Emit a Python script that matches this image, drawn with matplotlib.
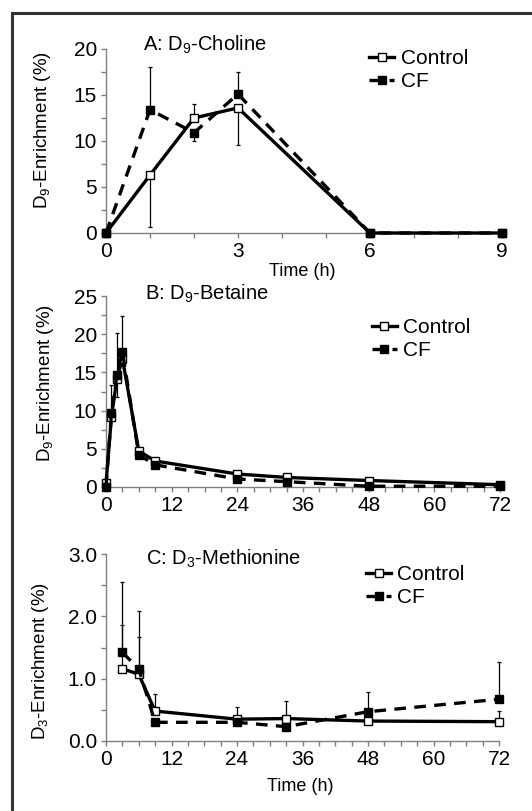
import matplotlib
matplotlib.use("Agg")
import matplotlib.pyplot as plt
from matplotlib import font_manager
from matplotlib.patches import Rectangle
from matplotlib.ticker import MultipleLocator, FormatStrFormatter

names = {f.name for f in font_manager.fontManager.ttflist}
NARROW = "Liberation Sans Narrow" if "Liberation Sans Narrow" in names else "Liberation Sans"
REG = "Liberation Sans"
plt.rcParams["font.family"] = [REG, "DejaVu Sans"]
plt.rcParams["mathtext.fontset"] = "custom"
plt.rcParams["mathtext.rm"] = REG

# ---------------- data ----------------
# Panel A: D9-Choline
a_time = [0, 1, 2, 3, 6, 9]
a_ctrl = [0, 6.3, 12.5, 13.6, 0, 0]
a_ctrl_lo = [0, 5.6, 0, 4.0, 0, 0]
a_ctrl_hi = [0, 0, 1.5, 0, 0, 0]
a_cf = [0, 13.4, 10.9, 15.1, 0, 0]
a_cf_lo = [0, 0, 0.9, 0, 0, 0]
a_cf_hi = [0, 4.6, 0, 2.4, 0, 0]

# Panel B: D9-Betaine
b_time = [0, 1, 2, 3, 6, 9, 24, 33, 48, 72]
b_ctrl = [0.5, 9.2, 14.2, 16.8, 4.7, 3.4, 1.7, 1.25, 0.85, 0.3]
b_ctrl_lo = [0, 0, 2.4, 0, 0, 0, 0, 0, 0, 0]
b_ctrl_hi = [0, 0, 0, 0, 0, 0, 0, 0, 0, 0]
b_cf = [0, 9.7, 14.7, 17.7, 4.2, 2.9, 1.05, 0.7, 0.1, 0.1]
b_cf_lo = [0, 0, 0, 0, 0, 0, 0, 0, 0, 0]
b_cf_hi = [0, 3.6, 5.4, 4.7, 0, 0, 0, 0, 0, 0]

# Panel C: D3-Methionine
c_time = [3, 6, 9, 24, 33, 48, 72]
c_ctrl = [1.16, 1.07, 0.48, 0.35, 0.36, 0.32, 0.31]
c_ctrl_lo = [0, 0, 0, 0, 0, 0, 0]
c_ctrl_hi = [0.70, 0.60, 0.28, 0.20, 0.28, 0, 0.17]
c_cf = [1.42, 1.16, 0.30, 0.30, 0.23, 0.47, 0.67]
c_cf_lo = [0, 0, 0, 0, 0, 0, 0]
c_cf_hi = [1.13, 0.93, 0, 0, 0, 0.32, 0.59]

series_labels = ["Control", "CF"]

# ---------------- figure ----------------
W, H = 532, 811
fig = plt.figure(figsize=(W / 100, H / 100), dpi=100)
fig.patches.append(Rectangle((12 / W, -0.02), 1.1, 1 - 13 / H + 0.02,
                             transform=fig.transFigure, fill=False,
                             edgecolor="#333333", linewidth=2.2))

def px_axes(l, t, r, b):
    return fig.add_axes([l / W, 1 - b / H, (r - l) / W, (b - t) / H])

axA = px_axes(106, 49, 502, 233)
axB = px_axes(106, 296, 500, 487)
axC = px_axes(106, 554, 499, 741)

GRAY = "#808080"

def draw(ax, t, ctrl, clo, chi, cf, flo, fhi):
    ax.errorbar(t, ctrl, yerr=[clo, chi], fmt="none", ecolor="black",
                elinewidth=0.9, capsize=1.5, capthick=0.9, zorder=2, clip_on=False)
    ax.errorbar(t, cf, yerr=[flo, fhi], fmt="none", ecolor="black",
                elinewidth=0.9, capsize=1.5, capthick=0.9, zorder=2, clip_on=False)
    l1, = ax.plot(t, ctrl, color="black", lw=2.4, ls="-", marker="s", ms=6,
                  mfc="white", mec="black", mew=1.0, zorder=3, clip_on=False,
                  label=series_labels[0])
    l2, = ax.plot(t, cf, color="black", lw=2.4, ls=(0, (3.5, 2.5)), marker="s",
                  ms=6, mfc="black", mec="black", zorder=4, clip_on=False,
                  label=series_labels[1])
    return l1, l2

def style(ax, xmax, xmajor, xminor, ymax, ymajor, yminor, yfmt):
    for s in ["top", "right"]:
        ax.spines[s].set_visible(False)
    for s in ["left", "bottom"]:
        ax.spines[s].set_color(GRAY)
        ax.spines[s].set_linewidth(1.0)
    ax.set_xlim(0, xmax)
    ax.set_ylim(0, ymax)
    ax.xaxis.set_major_locator(MultipleLocator(xmajor))
    ax.xaxis.set_minor_locator(MultipleLocator(xminor))
    ax.yaxis.set_major_locator(MultipleLocator(ymajor))
    ax.yaxis.set_minor_locator(MultipleLocator(yminor))
    ax.yaxis.set_major_formatter(FormatStrFormatter(yfmt))
    ax.tick_params(which="both", direction="out", color=GRAY, width=1.0,
                   length=3.5, pad=3, labelsize=15)
    for lab in ax.get_xticklabels() + ax.get_yticklabels():
        lab.set_family(NARROW)

TITLE_FS = 14.5
YL_FS = 13.5

# Panel A
hA = draw(axA, a_time, a_ctrl, a_ctrl_lo, a_ctrl_hi, a_cf, a_cf_lo, a_cf_hi)
style(axA, 9, 3, 1, 20, 5, 2.5, "%d")
axA.text(0.093, 1.02, r"A: D$_9$-Choline", transform=axA.transAxes,
         fontsize=TITLE_FS, va="center", ha="left")
axA.set_ylabel(r"D$_9$-Enrichment (%)", fontsize=YL_FS, family=NARROW)
axA.yaxis.set_label_coords(-0.135, 0.56)
axA.set_xlabel("Time (h)", fontsize=13, family=NARROW)
axA.xaxis.set_label_coords(0.495, -0.165)

# Panel B
hB = draw(axB, b_time, b_ctrl, b_ctrl_lo, b_ctrl_hi, b_cf, b_cf_lo, b_cf_hi)
style(axB, 72, 12, 3, 25, 5, 2.5, "%d")
axB.text(0.1, 1.01, r"B: D$_9$-Betaine", transform=axB.transAxes,
         fontsize=TITLE_FS, va="center", ha="left")
axB.set_ylabel(r"D$_9$-Enrichment (%)", fontsize=YL_FS, family=NARROW)
axB.yaxis.set_label_coords(-0.128, 0.545)

# Panel C
hC = draw(axC, c_time, c_ctrl, c_ctrl_lo, c_ctrl_hi, c_cf, c_cf_lo, c_cf_hi)
style(axC, 72, 12, 3, 3.0, 1.0, 0.5, "%.1f")
axC.text(0.102, 0.973, r"C: D$_3$-Methionine", transform=axC.transAxes,
         fontsize=TITLE_FS, va="center", ha="left")
axC.set_ylabel(r"D$_3$-Enrichment (%)", fontsize=YL_FS, family=NARROW)
axC.yaxis.set_label_coords(-0.14, 0.43)
axC.set_xlabel("Time (h)", fontsize=13, family=NARROW)
axC.xaxis.set_label_coords(0.495, -0.2)

def leg(ax, handles, x, y):
    ax.legend(handles, series_labels, loc="upper left", bbox_to_anchor=(x, y),
              frameon=False, borderpad=0, borderaxespad=0, handlelength=1.2,
              handletextpad=0.3, labelspacing=0.2, fontsize=15,
              markerscale=0.9)

leg(axA, hA, 0.665, 1.0)
leg(axB, hB, 0.675, 0.885)
leg(axC, hC, 0.662, 0.94)

fig.savefig("out.png", dpi=100)
